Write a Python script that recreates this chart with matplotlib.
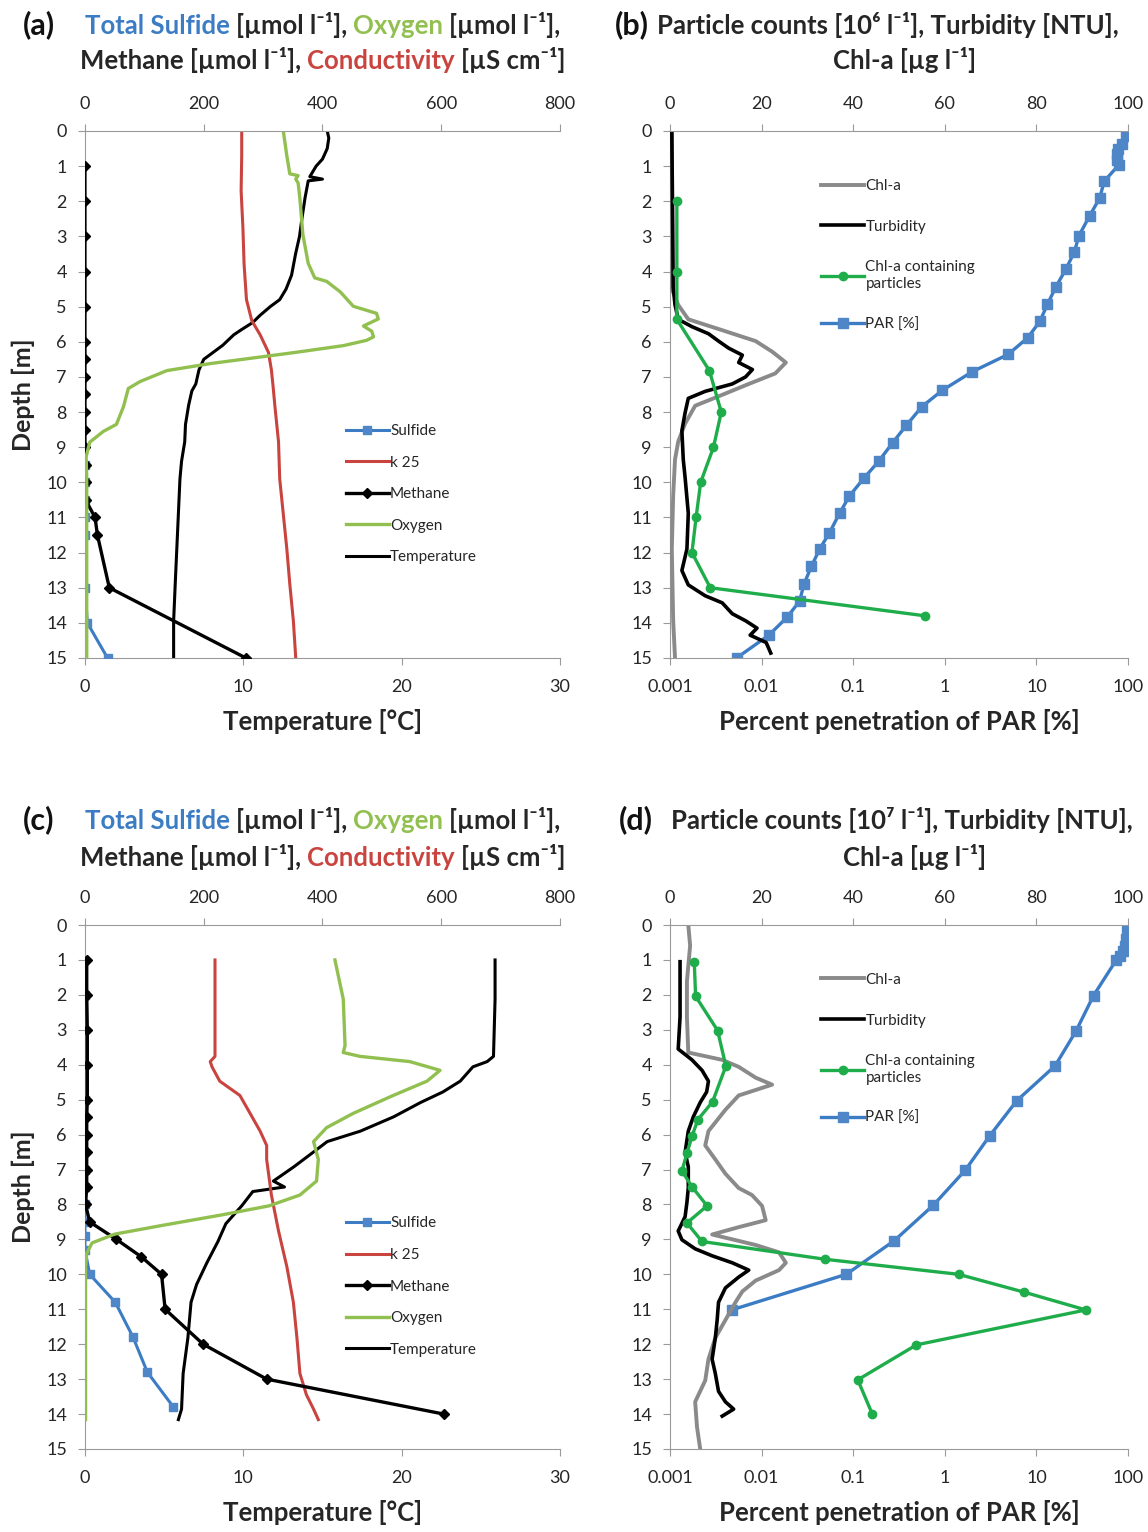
import matplotlib
matplotlib.use('Agg')
import matplotlib.pyplot as plt
from matplotlib.offsetbox import TextArea, HPacker, AnchoredOffsetbox

plt.rcParams['font.family'] = ['Lato', 'DejaVu Sans']

# ---------------- panel (a) ----------------
a_sulf_depth = [9.5, 10, 10.5, 11, 11.5, 13, 14, 15]
a_sulf = [0, 0, 0, 0, 0, 0, 4, 38]
a_k25_depth = [0, 0.7, 1.7, 2.75, 3.8, 4.8, 5.4, 5.8, 6.3, 6.8, 7.3, 7.85, 8.85, 9.9, 10.9, 11.9, 12.9, 13.95, 15.0]
a_k25 = [264, 264, 263, 266, 268, 272, 281, 295, 309, 314, 317, 320, 326, 328, 334, 340, 345, 351, 355]
a_meth_depth = [1, 2, 3, 4, 5, 6, 6.5, 7, 7.5, 8, 8.5, 9, 9.5, 10, 10.5, 11, 11.5, 13, 15]
a_meth = [0, 0, 0, 0, 0, 0, 0, 0, 0, 0, 0, 0, 1, 1, 1, 17, 21, 41, 271]
a_oxy_depth = [0, 0.71, 1.22, 1.27, 1.37, 1.48, 1.93, 2.95, 3.77, 4.18, 4.28, 4.58, 4.99, 5.19, 5.35,
               5.55, 5.7, 5.86, 5.96, 6.11, 6.31, 6.62, 6.82, 7.13, 7.33, 7.84, 8.35, 8.55, 8.86, 9.27, 9.88, 15.0]
a_oxy = [334, 340, 345, 359, 355, 359, 362, 367, 376, 387, 407, 430, 452, 491, 494,
         469, 483, 486, 474, 435, 351, 211, 138, 93, 73, 65, 53, 31, 8, 2, 3, 3]
a_temp_depth = [0.0, 0.2, 0.5, 0.8, 1.0, 1.3, 1.37, 1.42, 1.9, 2.5, 3.0, 3.5, 4.1, 4.5, 4.8, 5.0, 5.25, 5.45,
                5.65, 5.8, 6.1, 6.3, 6.5, 6.8, 7.2, 7.4, 7.8, 8.35, 8.85, 9.4, 9.9, 10.9, 11.9, 12.9, 13.95, 15.0]
a_temp = [15.3, 15.4, 15.3, 15.0, 14.6, 14.2, 15.0, 14.1, 13.9, 13.7, 13.55, 13.3, 13.05, 12.7, 12.3, 11.7, 11.05, 10.6,
          9.9, 9.4, 8.7, 8.1, 7.5, 7.2, 7.0, 6.75, 6.55, 6.35, 6.3, 6.1, 6.0, 5.9, 5.8, 5.7, 5.6, 5.6]

# ---------------- panel (b) ----------------
b_chl_depth = [0, 4.5, 4.95, 5.36, 5.67, 5.98, 6.28, 6.59, 6.9, 7.2, 7.51, 7.82, 8.33, 8.84, 9.35, 10.37, 11.9, 13.94, 15.0]
b_chl = [0.4, 0.4, 1.8, 4.0, 11.4, 18.7, 22.3, 25.3, 23.0, 17.2, 11.4, 5.5, 3.3, 1.8, 1.1, 0.7, 0.4, 0.7, 1.1]
b_turb_depth = [0, 2.7, 4.44, 4.95, 5.36, 5.57, 5.77, 5.98, 6.18, 6.38, 6.59, 6.79, 7.0, 7.2, 7.41, 7.61, 8.02, 8.53,
                9.35, 9.86, 10.88, 11.9, 12.51, 12.92, 13.23, 13.43, 13.74, 13.94, 14.15, 14.35, 14.56, 14.86]
b_turb = [0.4, 0.6, 0.7, 1.1, 1.8, 4.8, 8.4, 10.6, 12.8, 15.8, 15.0, 18.0, 16.5, 13.6, 7.7, 4.0, 3.3, 2.6,
          2.9, 3.3, 4.0, 3.7, 2.6, 4.0, 7.7, 11.4, 13.6, 16.5, 19.0, 17.5, 21.0, 22.0]
b_part_depth = [2, 4, 5.36, 6.82, 8.0, 9.0, 10.0, 11.0, 12.0, 13.0, 13.8]
b_part = [1.5, 1.5, 1.5, 8.6, 11.2, 9.5, 6.7, 5.7, 4.8, 8.8, 55.7]
b_par_depth = [0, 0.15, 0.36, 0.51, 0.66, 0.82, 0.97, 1.43, 1.91, 2.42, 2.99, 3.44, 3.93, 4.44, 4.93, 5.42, 5.89,
               6.36, 6.85, 7.38, 7.85, 8.38, 8.87, 9.40, 9.89, 10.39, 10.88, 11.44, 11.90, 12.39, 12.90, 13.38,
               13.84, 14.35, 14.99]
b_par = [100, 96, 85, 78, 75, 76, 79, 55, 49, 38, 29, 26, 21, 16.3, 13.2, 10.9, 8.0,
         4.9, 2.0, 0.94, 0.56, 0.38, 0.27, 0.19, 0.13, 0.091, 0.071, 0.055, 0.043, 0.035, 0.029, 0.026,
         0.019, 0.012, 0.0054]

# ---------------- panel (c) ----------------
c_sulf_depth = [2, 5, 7, 7.5, 8, 8.5, 8.9, 9.3, 10, 10.8, 11.8, 12.8, 13.8]
c_sulf = [0, 0, 0, 0, 0, 0, 0, 0, 8, 51, 81, 105, 149]
c_k25_depth = [1.0, 3.76, 3.91, 4.06, 4.47, 4.88, 5.39, 5.9, 6.31, 6.71, 7.73, 8.76, 9.78, 10.8, 11.82, 12.84, 13.45, 13.86, 14.16]
c_k25 = [219, 219, 211, 214, 227, 261, 278, 295, 306, 306, 314, 326, 340, 351, 357, 362, 373, 385, 393]
c_meth_depth = [1, 2, 3, 4, 5, 5.5, 6, 6.5, 7, 7.5, 8, 8.5, 9, 9.5, 10, 11, 12, 13, 14]
c_meth = [3, 3, 4, 4, 4, 3, 3, 3, 3, 3, 1, 8, 53, 95, 129, 135, 199, 306, 604]
c_oxy_depth = [1, 2.12, 3.45, 3.65, 3.76, 3.91, 4.16, 4.47, 4.88, 5.39, 5.8, 6.2, 6.71, 7.33, 7.73,
               8.04, 8.3, 8.6, 8.85, 9.1, 9.4, 9.8, 14.16]
c_oxy = [421, 435, 438, 435, 463, 547, 598, 576, 519, 452, 407, 385, 393, 390, 362,
         310, 230, 130, 50, 12, 3, 1, 1]
c_temp_depth = [1.0, 2.12, 3.76, 3.91, 4.06, 4.47, 4.78, 5.08, 5.49, 5.9, 6.2, 6.51, 6.92, 7.33, 7.5, 7.63,
                8.04, 8.55, 9.06, 9.67, 10.29, 10.8, 11.82, 12.84, 13.86, 14.16]
c_temp = [25.9, 25.9, 25.8, 25.4, 24.5, 23.7, 22.6, 21.2, 19.5, 17.4, 15.3, 14.4, 13.2, 11.9, 12.6, 10.6,
          9.9, 8.9, 8.4, 7.7, 7.05, 6.7, 6.5, 6.2, 6.1, 5.9]

# ---------------- panel (d) ----------------
d_chl_depth = [0, 0.59, 1.61, 2.63, 3.65, 3.86, 4.06, 4.37, 4.57, 4.88, 5.29, 5.9, 6.31, 6.71, 7.12, 7.53, 7.73,
               8.04, 8.45, 8.65, 8.86, 9.16, 9.37, 9.67, 9.88, 10.18, 10.49, 10.8, 11.31, 11.82, 12.43, 13.04,
               13.65, 14.37, 15.0]
d_chl = [4.0, 4.4, 3.7, 3.7, 4.0, 11.4, 15.0, 18.7, 22.3, 15.0, 12.1, 8.4, 7.7, 9.9, 12.1, 15.0, 17.9,
         20.1, 20.9, 15.0, 9.2, 18.7, 23.8, 25.3, 23.8, 18.7, 15.8, 14.3, 12.1, 9.9, 8.4, 7.7,
         5.5, 5.9, 6.6]
d_turb_depth = [1.05, 2.63, 3.55, 3.86, 4.16, 4.47, 4.78, 5.08, 5.49, 5.9, 6.51, 6.92, 7.53, 7.94, 8.35, 8.76,
                9.01, 9.27, 9.47, 9.67, 9.88, 10.08, 10.39, 10.8, 11.31, 11.82, 12.43, 12.84, 13.35, 13.65,
                13.86, 14.06]
d_turb = [2.2, 2.2, 1.8, 4.8, 7.0, 8.4, 8.0, 6.6, 5.1, 4.0, 3.3, 4.0, 4.0, 3.7, 3.3, 1.8,
          2.6, 5.5, 9.2, 13.6, 17.2, 15.0, 12.1, 10.6, 10.3, 9.9, 9.2, 9.9, 10.6, 12.1,
          13.9, 11.4]
d_part_depth = [1.05, 2.04, 3.02, 4.04, 5.06, 5.57, 6.05, 6.54, 7.04, 7.51, 8.04, 8.53, 9.06, 9.57, 10.0,
                10.51, 11.02, 12.02, 13.02, 14.01]
d_part = [5.3, 5.6, 10.4, 12.2, 9.3, 6.1, 4.8, 3.7, 2.6, 4.9, 8.1, 3.7, 7.0, 33.9, 63.0,
          77.3, 90.8, 53.8, 41.0, 44.2]
d_par_depth = [0, 0.18, 0.39, 0.59, 0.74, 0.9, 1.0, 2.02, 3.04, 4.03, 5.03, 6.03, 7.02, 8.02, 9.04, 10.0, 11.02]
d_par = [100, 98, 96, 92, 88, 81, 74.5, 42, 27, 16, 6.1, 3.1, 1.67, 0.75, 0.28, 0.084, 0.0047]

conc_ticks = [0, 200, 400, 600, 800]
part_ticks = [0, 20, 40, 60, 80, 100]
temp_ticks = [0, 10, 20, 30]
par_ticks = [0.001, 0.01, 0.1, 1, 10, 100]
par_labels = ['0.001', '0.01', '0.1', '1', '10', '100']

BLUE = '#3b7cc4'
BLUE_M = '#4f86c8'
RED = '#c9443f'
OLIVE = '#92c050'
GREEN = '#1fad4b'
GRAY = '#8a8a8a'
SPINE = '#9a9a9a'
TXT = '#262626'

fig = plt.figure(figsize=(11.48, 15.32), dpi=100)

def frame(ax, ax2):
    ax.set_ylim(15, 0)
    ax.set_yticks(range(16))
    ax.spines['right'].set_visible(False)
    ax.spines['top'].set_visible(False)
    for s in ['left', 'right', 'bottom']:
        ax2.spines[s].set_visible(False)
    for s in ['left', 'bottom']:
        ax.spines[s].set_color(SPINE)
    ax2.spines['top'].set_color(SPINE)
    ax.tick_params(axis='both', direction='out', length=5, color=SPINE, labelsize=13,
                   labelcolor=TXT, pad=8)
    ax.tick_params(axis='x', pad=10)
    ax2.tick_params(axis='x', direction='out', length=5, color=SPINE, labelsize=13,
                    labelcolor=TXT, pad=9)
    ax.minorticks_off()

def color_line(parts, x, y, size=18.5):
    boxes = [TextArea(t, textprops=dict(color=c, fontsize=size, fontweight='bold')) for t, c in parts]
    pack = HPacker(children=boxes, align='baseline', pad=0, sep=4.5)
    box = AnchoredOffsetbox(loc='center', child=pack, frameon=False, pad=0, borderpad=0,
                            bbox_to_anchor=(x, y), bbox_transform=fig.transFigure)
    fig.add_artist(box)

UM = '[\u00b5mol l\u207b\u00b9],'

# ---------- left panels: chemistry ----------
def chem_panel(rect, sd, s, kd, k, md, m, od, o, td, t):
    ax = fig.add_axes(rect)
    ax2 = ax.twiny()
    ax2.plot(s, sd, color=BLUE, lw=2.2, marker='s', ms=6, mfc=BLUE_M, mec=BLUE_M, label='Sulfide')
    ax2.plot(k, kd, color=RED, lw=2.2, label='k 25')
    ax2.plot(m, md, color='black', lw=2.4, marker='D', ms=5.5, label='Methane')
    ax2.plot(o, od, color=OLIVE, lw=2.4, label='Oxygen')
    ax.plot(t, td, color='black', lw=2.2, label='Temperature')
    ax.set_xlim(0, 30)
    ax.set_xticks(temp_ticks)
    ax2.set_xlim(0, 800)
    ax2.set_xticks(conc_ticks)
    frame(ax, ax2)
    ax.set_xlabel('Temperature [\u00b0C]', fontsize=18.5, fontweight='bold', color=TXT, labelpad=10)
    ax.set_ylabel('Depth [m]', fontsize=18, fontweight='bold', color=TXT, labelpad=8)
    h2, l2 = ax2.get_legend_handles_labels()
    h1, l1 = ax.get_legend_handles_labels()
    ax2.legend(h2 + h1, l2 + l1, loc='upper left', bbox_to_anchor=(0.52, 0.47), frameon=False,
               fontsize=11, handlelength=2.8, handletextpad=0.1, labelspacing=1.15,
               labelcolor=TXT)
    return ax

def optic_panel(rect, cd, c, tbd, tb, pd_, p, rd, r):
    ax = fig.add_axes(rect)
    ax2 = ax.twiny()
    ax2.plot(c, cd, color=GRAY, lw=2.8, label='Chl-a')
    ax2.plot(tb, tbd, color='black', lw=2.6, label='Turbidity')
    ax2.plot(p, pd_, color=GREEN, lw=2.4, marker='o', ms=6, label='Chl-a containing\nparticles')
    ax.plot(r, rd, color=BLUE, lw=2.4, marker='s', ms=6.5, mfc=BLUE_M, mec=BLUE_M, label='PAR [%]')
    ax.set_xscale('log')
    ax.set_xlim(0.001, 100)
    ax.set_xticks(par_ticks)
    ax.set_xticklabels(par_labels)
    ax2.set_xlim(0, 100)
    ax2.set_xticks(part_ticks)
    frame(ax, ax2)
    ax.set_xlabel('Percent penetration of PAR [%]', fontsize=18.5, fontweight='bold', color=TXT, labelpad=10)
    h2, l2 = ax2.get_legend_handles_labels()
    h1, l1 = ax.get_legend_handles_labels()
    ax2.legend(h2 + h1, l2 + l1, loc='upper left', bbox_to_anchor=(0.3, 0.935), frameon=False,
               fontsize=11, handlelength=2.8, handletextpad=0.1, labelspacing=1.75,
               labelcolor=TXT)
    return ax

chem_panel([0.074, 0.5705, 0.4138, 0.344], a_sulf_depth, a_sulf, a_k25_depth, a_k25,
           a_meth_depth, a_meth, a_oxy_depth, a_oxy, a_temp_depth, a_temp)
optic_panel([0.5836, 0.5705, 0.399, 0.344], b_chl_depth, b_chl, b_turb_depth, b_turb,
            b_part_depth, b_part, b_par_depth, b_par)
chem_panel([0.074, 0.0542, 0.4138, 0.342], c_sulf_depth, c_sulf, c_k25_depth, c_k25,
           c_meth_depth, c_meth, c_oxy_depth, c_oxy, c_temp_depth, c_temp)
optic_panel([0.5836, 0.0542, 0.399, 0.342], d_chl_depth, d_chl, d_turb_depth, d_turb,
            d_part_depth, d_part, d_par_depth, d_par)

# ---------- titles ----------
for letter, x, y in [('(a)', 0.034, 0.9837), ('(b)', 0.55, 0.9837),
                     ('(c)', 0.034, 0.4648), ('(d)', 0.554, 0.4648)]:
    fig.text(x, y, letter, fontsize=22, fontweight='bold', color='#111111', ha='center', va='center')

for y1, y2 in [(0.9837, 0.9608), (0.4648, 0.4406)]:
    color_line([('Total Sulfide', BLUE), (UM, TXT), ('Oxygen', OLIVE), (UM, TXT)], 0.281, y1)
    color_line([('Methane ' + UM, TXT), ('Conductivity', RED), ('[\u00b5S cm\u207b\u00b9]', TXT)], 0.281, y2)

color_line([('Particle counts [10\u2076 l\u207b\u00b9], Turbidity [NTU],', TXT)], 0.773, 0.9837)
color_line([('Chl-a [\u00b5g l\u207b\u00b9]', TXT)], 0.788, 0.9608)
color_line([('Particle counts [10\u2077 l\u207b\u00b9], Turbidity [NTU],', TXT)], 0.786, 0.4648)
color_line([('Chl-a [\u00b5g l\u207b\u00b9]', TXT)], 0.797, 0.4406)

fig.savefig('out.png', dpi=100, facecolor='white')
